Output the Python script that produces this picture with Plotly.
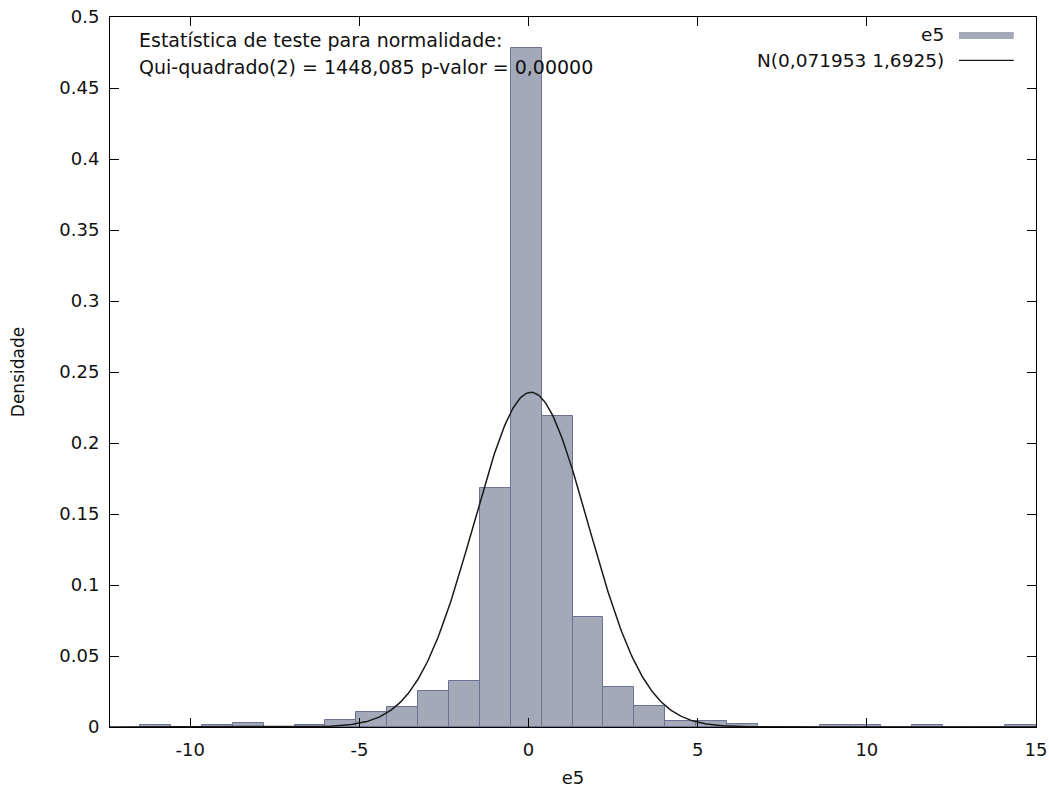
import numpy as np
import plotly.graph_objects as go

# ---- data ----
bin_start = -11.479
bin_width = 0.913
densities = [0.0012, 0.0, 0.0012, 0.0026, 0.0, 0.0012, 0.005, 0.0108, 0.0143,
             0.0256, 0.0326, 0.168, 0.478, 0.219, 0.0775, 0.028, 0.015, 0.0044,
             0.0044, 0.0021, 0.0, 0.0, 0.0012, 0.0012, 0.0, 0.0012, 0.0, 0.0, 0.0012]
bin_centres = [bin_start + bin_width * (i + 0.5) for i in range(len(densities))]
norm_mean = 0.071953
norm_sd = 1.6925
x_ticks = [-10, -5, 0, 5, 10, 15]
y_ticks = [0, 0.05, 0.1, 0.15, 0.2, 0.25, 0.3, 0.35, 0.4, 0.45, 0.5]
y_labels = ["0", "0.05", "0.1", "0.15", "0.2", "0.25", "0.3", "0.35", "0.4", "0.45", "0.5"]
x_range = [-12.37, 15]

FONT = "DejaVu Sans"
TXT = "#111111"
BAR_FILL = "#a3a9b8"
BAR_LINE = "#6a7391"
FS = 18

xs = np.linspace(x_range[0], x_range[1], 600)
ys = np.exp(-0.5 * ((xs - norm_mean) / norm_sd) ** 2) / (norm_sd * np.sqrt(2 * np.pi))

fig = go.Figure()
fig.add_trace(go.Bar(x=bin_centres, y=densities, width=bin_width,
                     marker=dict(color=BAR_FILL, line=dict(color=BAR_LINE, width=1)),
                     name="e5", showlegend=False))
fig.add_trace(go.Scatter(x=xs, y=ys, mode="lines",
                         line=dict(color="#1a1a1a", width=1.5),
                         name="N(0,071953 1,6925)", showlegend=False))

axis_common = dict(ticks="inside", ticklen=9, tickcolor="black", showline=True,
                   linecolor="black", linewidth=1, mirror="ticks", showgrid=False,
                   zeroline=False, automargin=False, tickfont=dict(size=FS),
                   ticklabeloverflow="allow")

fig.update_layout(
    width=1049, height=792,
    margin=dict(l=110, r=13, t=17, b=65),
    plot_bgcolor="white", paper_bgcolor="white",
    font=dict(family=FONT, size=FS, color=TXT),
    bargap=0,
    xaxis=dict(range=x_range, tickvals=x_ticks, ticktext=[str(v) for v in x_ticks],
               ticklabelstandoff=6,
               title=dict(text="e5", standoff=12, font=dict(size=FS)), **axis_common),
    yaxis=dict(range=[0, 0.5], tickvals=y_ticks, ticktext=y_labels,
               ticklabelstandoff=6,
               title=dict(text="Densidade", standoff=30, font=dict(size=17)), **axis_common),
)

# statistic text
fig.add_annotation(xref="paper", yref="paper", x=0.029, y=0.968, xanchor="left",
                   yanchor="middle", showarrow=False,
                   text="Estatística de teste para normalidade:", font=dict(size=19))
fig.add_annotation(xref="paper", yref="paper", x=0.029, y=0.930, xanchor="left",
                   yanchor="middle", showarrow=False,
                   text="Qui-quadrado(2) = 1448,085 p-valor = 0,00000", font=dict(size=19))

# legend (gnuplot style: text then sample)
fig.add_annotation(xref="paper", yref="paper", x=0.9027, y=0.975, xanchor="right",
                   yanchor="middle", showarrow=False, text="e5", font=dict(size=18.5))
fig.add_annotation(xref="paper", yref="paper", x=0.9027, y=0.939, xanchor="right",
                   yanchor="middle", showarrow=False, text="N(0,071953 1,6925)",
                   font=dict(size=18.5))
fig.add_shape(type="rect", xref="paper", yref="paper", x0=0.9168, x1=0.976,
              y0=0.969, y1=0.979, fillcolor=BAR_FILL, line=dict(width=0))
fig.add_shape(type="line", xref="paper", yref="paper", x0=0.9168, x1=0.976,
              y0=0.939, y1=0.939, line=dict(color="#1a1a1a", width=1.2))

fig.write_html("out.html", config={"displayModeBar": False},
               post_script="document.body.style.margin='0';document.body.style.overflow='hidden';")
